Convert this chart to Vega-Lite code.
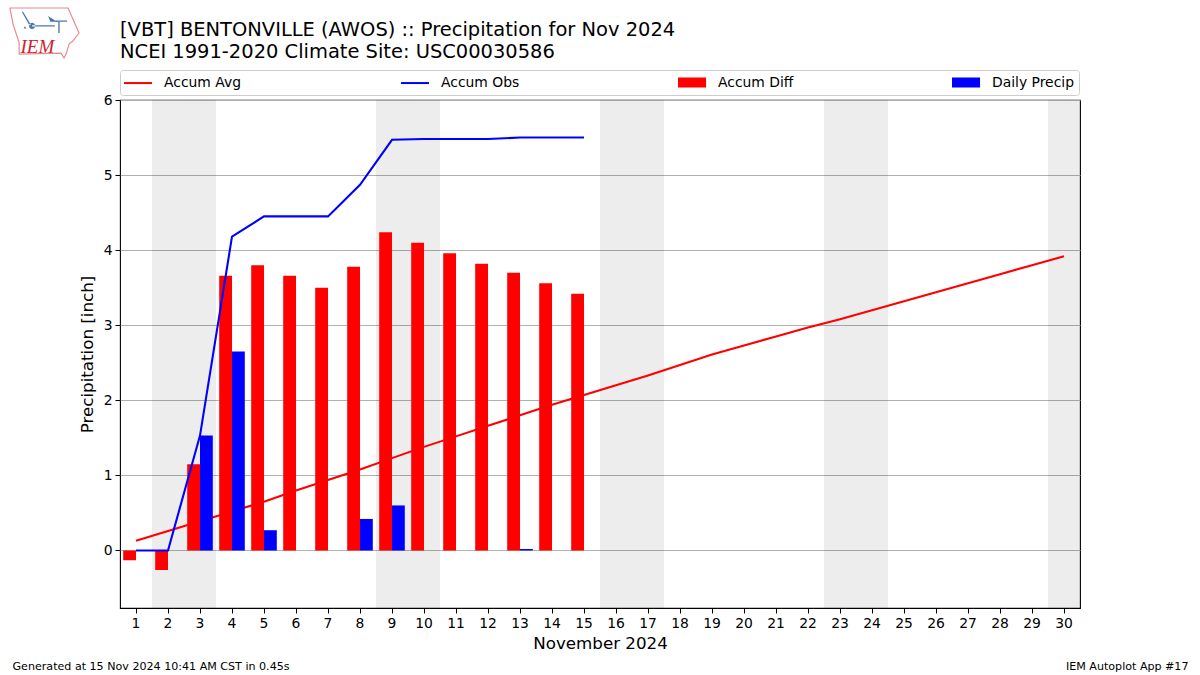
{
"$schema":"https://vega.github.io/schema/vega-lite/v6.json",
"width":960,"height":508,
"autosize":{"type":"none"},
"padding":{"left":120,"top":100,"right":120,"bottom":67},
"background":"white",
"config":{"view":{"stroke":"black","strokeWidth":1.1},"font":"DejaVu Sans"},
"title":{"text":["[VBT] BENTONVILLE (AWOS) :: Precipitation for Nov 2024","NCEI 1991-2020 Climate Site: USC00030586"],"anchor":"start","frame":"group","font":"DejaVu Sans","fontSize":19.47,"fontWeight":"normal","color":"black","lineHeight":22,"offset":-64},
"datasets":{
"weekend":[{"day":2},{"day":3},{"day":9},{"day":10},{"day":16},{"day":17},{"day":23},{"day":24},{"day":30}],
"logo":[{"logo":"IEM"}],
"series":[
{"day":1,"series":"Accum Avg","value":0.13},{"day":2,"series":"Accum Avg","value":0.26},{"day":3,"series":"Accum Avg","value":0.39},{"day":4,"series":"Accum Avg","value":0.52},{"day":5,"series":"Accum Avg","value":0.65},{"day":6,"series":"Accum Avg","value":0.8},{"day":7,"series":"Accum Avg","value":0.94},{"day":8,"series":"Accum Avg","value":1.08},{"day":9,"series":"Accum Avg","value":1.23},{"day":10,"series":"Accum Avg","value":1.38},{"day":11,"series":"Accum Avg","value":1.52},{"day":12,"series":"Accum Avg","value":1.66},{"day":13,"series":"Accum Avg","value":1.8},{"day":14,"series":"Accum Avg","value":1.94},{"day":15,"series":"Accum Avg","value":2.07},{"day":16,"series":"Accum Avg","value":2.2},{"day":17,"series":"Accum Avg","value":2.33},{"day":18,"series":"Accum Avg","value":2.47},{"day":19,"series":"Accum Avg","value":2.61},{"day":20,"series":"Accum Avg","value":2.73},{"day":21,"series":"Accum Avg","value":2.85},{"day":22,"series":"Accum Avg","value":2.97},{"day":23,"series":"Accum Avg","value":3.08},{"day":24,"series":"Accum Avg","value":3.2},{"day":25,"series":"Accum Avg","value":3.32},{"day":26,"series":"Accum Avg","value":3.44},{"day":27,"series":"Accum Avg","value":3.56},{"day":28,"series":"Accum Avg","value":3.68},{"day":29,"series":"Accum Avg","value":3.8},{"day":30,"series":"Accum Avg","value":3.92},
{"day":1,"series":"Accum Obs","value":0},{"day":2,"series":"Accum Obs","value":0},{"day":3,"series":"Accum Obs","value":1.53},{"day":4,"series":"Accum Obs","value":4.18},{"day":5,"series":"Accum Obs","value":4.45},{"day":6,"series":"Accum Obs","value":4.45},{"day":7,"series":"Accum Obs","value":4.45},{"day":8,"series":"Accum Obs","value":4.87},{"day":9,"series":"Accum Obs","value":5.47},{"day":10,"series":"Accum Obs","value":5.48},{"day":11,"series":"Accum Obs","value":5.48},{"day":12,"series":"Accum Obs","value":5.48},{"day":13,"series":"Accum Obs","value":5.5},{"day":14,"series":"Accum Obs","value":5.5},{"day":15,"series":"Accum Obs","value":5.5},
{"day":1,"series":"Accum Diff","value":-0.13},{"day":2,"series":"Accum Diff","value":-0.26},{"day":3,"series":"Accum Diff","value":1.15},{"day":4,"series":"Accum Diff","value":3.66},{"day":5,"series":"Accum Diff","value":3.8},{"day":6,"series":"Accum Diff","value":3.66},{"day":7,"series":"Accum Diff","value":3.5},{"day":8,"series":"Accum Diff","value":3.78},{"day":9,"series":"Accum Diff","value":4.24},{"day":10,"series":"Accum Diff","value":4.1},{"day":11,"series":"Accum Diff","value":3.96},{"day":12,"series":"Accum Diff","value":3.82},{"day":13,"series":"Accum Diff","value":3.7},{"day":14,"series":"Accum Diff","value":3.56},{"day":15,"series":"Accum Diff","value":3.42},
{"day":3,"series":"Daily Precip","value":1.53},{"day":4,"series":"Daily Precip","value":2.65},{"day":5,"series":"Daily Precip","value":0.27},{"day":8,"series":"Daily Precip","value":0.42},{"day":9,"series":"Daily Precip","value":0.6},{"day":13,"series":"Daily Precip","value":0.02}
]},
"resolve":{"axis":{"x":"independent"},"scale":{"shape":"independent"}},
"layer":[
{"data":{"name":"weekend"},
 "mark":{"type":"rect","fill":"black","fillOpacity":0.07},
 "encoding":{"x":{"field":"day","type":"ordinal",
   "scale":{"type":"band","domain":[1,2,3,4,5,6,7,8,9,10,11,12,13,14,15,16,17,18,19,20,21,22,23,24,25,26,27,28,29,30],"paddingInner":0,"paddingOuter":0},
   "axis":{"title":"November 2024","titleFontSize":16.7,"titleFontWeight":"normal","titleColor":"black","titleFont":"DejaVu Sans","titlePadding":6,"labelAngle":0,"labelFontSize":13.9,"labelColor":"black","labelFont":"DejaVu Sans","labelPadding":3,"tickColor":"black","tickSize":5,"domain":false,"grid":false}}}},
{"data":{"name":"series"},"transform":[{"filter":"datum.series==='Accum Avg'"}],
 "mark":{"type":"line","strokeWidth":2.08},
 "encoding":{"x":{"field":"day","type":"ordinal",
   "axis":{"orient":"top","title":"Generated at 15 Nov 2024 10:41 AM CST in 0.45s","titleFontSize":11.1,"titleFontWeight":"normal","titleColor":"black","titleFont":"DejaVu Sans","titleAlign":"left","titleX":-108,"titleY":569,"titleBaseline":"alphabetic","labels":false,"ticks":false,"domain":false,"grid":false}},
  "y":{"field":"value","type":"quantitative","scale":{"domain":[-0.766,6],"nice":false,"zero":false},
   "axis":{"title":"Precipitation [inch]","values":[0,1,2,3,4,5,6],"format":"d","titleFontSize":16.7,"titleFontWeight":"normal","titleColor":"black","titleFont":"DejaVu Sans","titlePadding":7,"labelFontSize":13.9,"labelColor":"black","labelFont":"DejaVu Sans","labelPadding":3,"tickColor":"black","tickSize":5,"domain":false,"grid":true,"gridColor":"#b0b0b0","gridWidth":1.1}},
  "color":{"field":"series","type":"nominal","scale":{"domain":["Accum Avg","Accum Obs","Accum Diff","Daily Precip"],"range":["#ff0000","#0000ff","#ff0000","#0000ff"]},
   "legend":{"title":null,"orient":"none","legendX":0,"legendY":-30,"direction":"horizontal","columns":4,"columnPadding":155,"labelFontSize":13.9,"labelColor":"black","labelFont":"DejaVu Sans","labelOffset":23.5,"symbolSize":196,"symbolStrokeWidth":2,"strokeColor":"#cccccc","fillColor":"white","cornerRadius":3,"padding":4.5,
    "encode":{"symbols":{"update":{"shape":{"signal":"datum.value==='Accum Avg'||datum.value==='Accum Obs'?'M-1.21,0H2.79':'M-1.07,-0.57H2.65V0.57H-1.07Z'"}}}}}}}},
{"data":{"name":"series"},"transform":[{"filter":"datum.series==='Accum Diff'||datum.series==='Daily Precip'"}],
 "mark":{"type":"bar"},
 "encoding":{"x":{"field":"day","type":"ordinal",
   "axis":{"orient":"top","title":"IEM Autoplot App #17","titleFontSize":11.1,"titleFontWeight":"normal","titleColor":"black","titleFont":"DejaVu Sans","titleAlign":"right","titleX":1068,"titleY":569,"titleBaseline":"alphabetic","labels":false,"ticks":false,"domain":false,"grid":false}},
  "xOffset":{"field":"series","type":"nominal","scale":{"domain":["Accum Diff","Daily Precip"],"paddingInner":0,"paddingOuter":0.25}},
  "y":{"field":"value","type":"quantitative"},
  "y2":{"datum":0},
  "color":{"field":"series","type":"nominal"}}},
{"data":{"name":"series"},"transform":[{"filter":"datum.series==='Accum Obs'"}],
 "mark":{"type":"line","strokeWidth":2.08},
 "encoding":{"x":{"field":"day","type":"ordinal",
   "axis":{"orient":"top","title":"IEM","titleFontSize":19,"titleFontStyle":"italic","titleFontWeight":"normal","titleColor":"#cc2233","titleFont":"Liberation Serif","titleAlign":"left","titleX":-100,"titleY":-48,"titleBaseline":"alphabetic","labels":false,"ticks":false,"domain":false,"grid":false}},
  "y":{"field":"value","type":"quantitative"},
  "color":{"field":"series","type":"nominal"}}},
{"data":{"name":"logo"},
 "mark":{"type":"point","size":0,"filled":false},
 "encoding":{"shape":{"field":"logo","type":"nominal","scale":{"range":["M-1.03,-.735L.68,-.735L.82,-.41L1,0L.82,.235L.71,.32L.62,.62L.56,.735L.47,.59L-.76,.62L-.76,.29L-.94,-.26Z"]},
   "legend":{"title":null,"orient":"none","legendX":-110,"legendY":-102,"padding":0,"labelExpr":"''","labelOffset":0,"symbolSize":4624,"symbolOpacity":1,"symbolFillColor":"transparent","symbolStrokeColor":"#e88a90","symbolStrokeWidth":1.2}}}},
{"data":{"name":"logo"},
 "mark":{"type":"point","size":0,"filled":true},
 "encoding":{"shape":{"field":"logo","type":"nominal","scale":{"range":["M-.35,-.2H.32V-.16H-.35ZM-.44,-.18A.09,.09 0 1 0 -.26,-.18A.09,.09 0 1 0 -.44,-.18ZM.12,-.47L.41,-.29L.18,-.32ZM.18,-.34H.68V-.3H.18ZM.42,-.32H.46V.03H.42ZM-.65,-.59L-.62,-.6L-.39,-.22L-.43,-.2ZM-.6,-.1L-.56,-.17L-.52,-.1Z"]},
   "legend":{"title":null,"orient":"none","legendX":-110,"legendY":-102,"padding":0,"labelExpr":"''","labelOffset":0,"symbolSize":4624,"symbolOpacity":1,"symbolStrokeWidth":0,"symbolFillColor":"#0000dd","symbolStrokeColor":"#0000dd"}}}}
]
}
